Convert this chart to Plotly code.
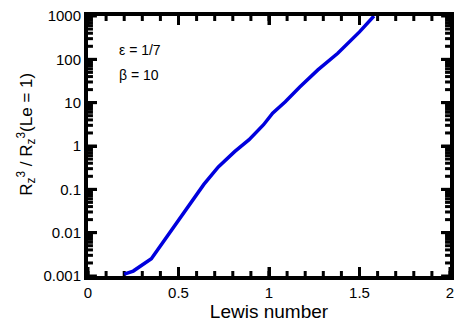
import plotly.graph_objects as go

lewis = [0.2, 0.25, 0.35, 0.43, 0.51, 0.58, 0.64, 0.72, 0.81, 0.89, 0.97, 1.02, 1.09, 1.17, 1.27, 1.38, 1.50, 1.58]
ratio = [0.0011, 0.0013, 0.0025, 0.0074, 0.021, 0.057, 0.13, 0.33, 0.74, 1.4, 3.1, 5.7, 10.5, 23, 57, 138, 430, 1000]
x_major = [0, 0.5, 1, 1.5, 2]
x_minor = [round(0.1 * i, 1) for i in range(21)]
y_major = [0.001, 0.01, 0.1, 1, 10, 100, 1000]
y_minor = [k * 10.0 ** d for d in range(-3, 3) for k in range(2, 10)]
x_range = [0, 2]
y_range = [-3, 3]

W, H = 459, 322
M = dict(l=88, r=5, t=16, b=46)
plot_w = W - M["l"] - M["r"]
plot_h = H - M["t"] - M["b"]
x_per_px = (x_range[1] - x_range[0]) / plot_w
dec_per_px = (y_range[1] - y_range[0]) / plot_h

fig = go.Figure()

def tick_segments(length_minor, length_major):
    tx, ty = [], []
    lo, hi = 10 ** y_range[0], 10 ** y_range[1]
    for vals, length in ((x_minor, length_minor), (x_major, length_major)):
        for v in vals:
            tx += [v, v, None, v, v, None]
            ty += [lo, 10 ** (y_range[0] + length * dec_per_px), None,
                   hi, 10 ** (y_range[1] - length * dec_per_px), None]
    for vals, length in ((y_minor, length_minor), (y_major, length_major)):
        for v in vals:
            tx += [x_range[0], x_range[0] + length * x_per_px, None,
                   x_range[1], x_range[1] - length * x_per_px, None]
            ty += [v, v, None, v, v, None]
    return tx, ty

tx, ty = tick_segments(5, 9)
fig.add_trace(go.Scatter(x=tx, y=ty, mode="lines", connectgaps=False,
                         line=dict(color="#000000", width=3),
                         hoverinfo="skip", showlegend=False, cliponaxis=False))

fig.add_trace(go.Scatter(x=lewis, y=ratio, mode="lines",
                         line=dict(color="#0000dd", width=3.5), showlegend=False))

fam = "Liberation Sans, Arial, Helvetica, sans-serif"
font = dict(family=fam, color="black")
fig.update_layout(
    width=W, height=H,
    margin=M,
    plot_bgcolor="white", paper_bgcolor="white",
    font=dict(size=15, **font),
    xaxis=dict(range=x_range, tickmode="array", tickvals=x_major,
               ticktext=[f"{v:g}" for v in x_major],
               ticks="inside", ticklen=9, tickwidth=3, tickcolor="#000000",
               showline=True, linewidth=4, linecolor="#000000", mirror="allticks",
               showgrid=False, zeroline=False, layer="above traces",
               title=dict(text="Lewis number", font=dict(size=19, **font), standoff=2),
               tickfont=dict(size=15, **font)),
    yaxis=dict(type="log", range=y_range, tickmode="array", tickvals=y_major,
               ticktext=[f"{v:g}" for v in y_major],
               ticks="inside", ticklen=9, tickwidth=3, tickcolor="#000000",
               showline=True, linewidth=4, linecolor="#000000", mirror="allticks",
               showgrid=False, zeroline=False, layer="above traces",
               tickfont=dict(size=15, **font)),
)

fig.add_annotation(x=-0.172, y=0.546, xref="paper", yref="paper",
                   text="R<sub>z</sub><sup>3</sup> / R<sub>z</sub><sup>3</sup>(Le = 1)",
                   textangle=-90, showarrow=False, xanchor="center", yanchor="middle",
                   font=dict(size=17, **font))
fig.add_annotation(x=0.08, y=0.87, xref="paper", yref="paper", text="ε = 1/7",
                   showarrow=False, xanchor="left", yanchor="middle", font=dict(size=14, **font))
fig.add_annotation(x=0.08, y=0.775, xref="paper", yref="paper", text="β = 10",
                   showarrow=False, xanchor="left", yanchor="middle", font=dict(size=14, **font))
fig.write_html("out.html")
